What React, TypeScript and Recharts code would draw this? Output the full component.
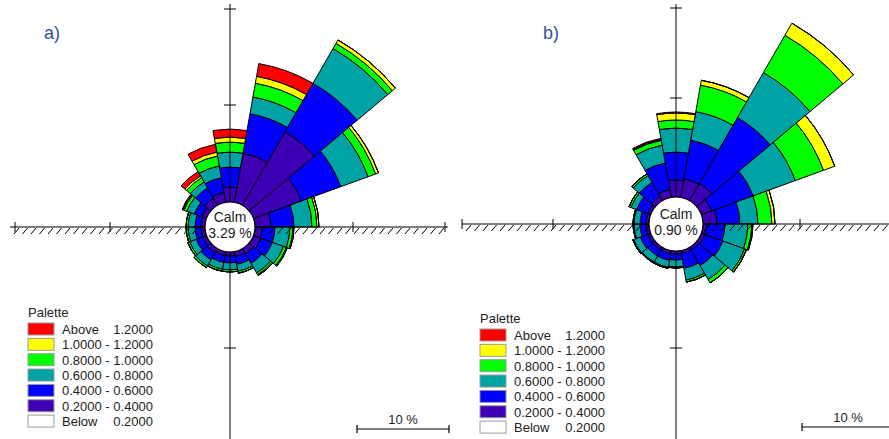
import {RadialBarChart, RadialBar, PolarAngleAxis, PolarRadiusAxis} from 'recharts';

// 18 sectors of 20 deg, clockwise from north
const directions = ['0', '20', '40', '60', '80', '100', '120', '140', '160', '180', '200', '220', '240', '260', '280', '300', '320', '340'];

// a) frequency (%) per direction for each speed class
const aS04 = [1.63, 5.43, 9.24, 5.54, 1.74, 0.76, 0.87, 0.65, 0.54, 0.43, 0.43, 0.54, 0.43, 0.43, 0.43, 0.54, 0.87, 1.09];
const aS06 = [2.17, 4.35, 6.09, 4.57, 2.5, 1.41, 1.3, 1.2, 0.87, 0.76, 0.76, 0.87, 0.76, 0.65, 0.65, 0.87, 1.3, 1.63];
const aS08 = [1.63, 1.85, 4.35, 3.15, 1.96, 1.63, 1.3, 1.2, 0.76, 0.76, 0.76, 0.76, 0.76, 0.76, 0.76, 0.87, 0.76, 1.3];
const aS10 = [1.09, 1.52, 0.65, 0.87, 0.54, 0.33, 0.33, 0.22, 0.22, 0.22, 0.22, 0.22, 0.22, 0.22, 0.22, 0.33, 0.54, 1.09];
const aS12 = [0.54, 0.76, 0.43, 0.33, 0.22, 0.11, 0.11, 0.11, 0, 0, 0, 0, 0, 0, 0, 0.11, 0.22, 0.43];
const aAbove = [0.87, 1.41, 0, 0, 0, 0, 0, 0, 0, 0, 0, 0, 0, 0, 0, 0.11, 0.54, 0.87];
const aCalm = '3.29 %';

// b)
const bS04 = [1.85, 2.07, 2.17, 1.2, 1.52, 0.43, 0.43, 0.33, 0.33, 0.33, 0.33, 0.33, 0.33, 0.33, 0.33, 0.33, 0.54, 0.87];
const bS06 = [3.04, 4.24, 8.26, 4.78, 2.5, 1.96, 2.07, 1.96, 1.63, 0.65, 0.76, 0.76, 0.87, 0.65, 0.65, 1.3, 1.74, 2.93];
const bS08 = [2.61, 3.15, 5.65, 4.89, 1.96, 2.5, 2.5, 1.74, 1.3, 0.76, 0.76, 0.76, 0.76, 0.65, 0.65, 0.65, 0.87, 1.96];
const bS10 = [0.87, 2.93, 4.67, 3.26, 1.52, 0.43, 0.22, 0.43, 0.22, 0.11, 0.11, 0.11, 0.11, 0.11, 0.11, 0.22, 0.22, 0.54];
const bS12 = [0.76, 0.54, 1.52, 1.3, 0.33, 0.11, 0, 0, 0, 0, 0, 0, 0, 0, 0, 0, 0, 0.11];
const bAbove = [0.11, 0, 0, 0, 0, 0, 0, 0, 0, 0, 0, 0, 0, 0, 0, 0, 0, 0.11];
const bCalm = '0.90 %';

// legend (top to bottom)
const legendColors = ['#ff0000', '#ffff00', '#00ff00', '#00a3a3', '#0000ff', '#3d00b5', '#ffffff'];
const legendLabels = ['Above', '1.0000 - 1.2000', '0.8000 - 1.0000', '0.6000 - 0.8000', '0.4000 - 0.6000', '0.2000 - 0.4000', 'Below'];
const legendValues = ['1.2000', '', '', '', '', '', '0.2000'];

// stacked from inside out
const bands = [
  {key: 's04', color: '#3d00b5'},
  {key: 's06', color: '#0000ff'},
  {key: 's08', color: '#00a3a3'},
  {key: 's10', color: '#00ff00'},
  {key: 's12', color: '#ffff00'},
  {key: 'above', color: '#ff0000'},
];

const build = (s04: number[], s06: number[], s08: number[], s10: number[], s12: number[], above: number[]) =>
  directions.map((dir, i) => ({dir, s04: s04[i], s06: s06[i], s08: s08[i], s10: s10[i], s12: s12[i], above: above[i]}));

const dataA = build(aS04, aS06, aS08, aS10, aS12, aAbove);
const dataB = build(bS04, bS06, bS08, bS10, bS12, bAbove);

const W = 889;
const H = 439;
const PX = 9.2; // px per 1 %
const FONT = '"Liberation Sans", Arial, sans-serif';

function Rose({data, left, width, cx, cy, inner}: any) {
  return (
    <div style={{position: 'absolute', left, top: 0}}>
      <RadialBarChart
        width={width}
        height={H}
        data={data}
        cx={cx}
        cy={cy}
        innerRadius={inner}
        outerRadius={inner + 24 * PX}
        startAngle={80}
        endAngle={-280}
        layout="centric"
        barCategoryGap={0}
        barGap={0}
        margin={{top: 0, right: 0, bottom: 0, left: 0}}
      >
        <PolarAngleAxis type="category" dataKey="dir" tick={false} axisLine={false} tickLine={false} />
        <PolarRadiusAxis type="number" domain={[0, 24]} tick={false} axisLine={false} tickLine={false} />
        {bands.map(b => (
          <RadialBar key={b.key} dataKey={b.key} stackId="w" fill={b.color} stroke="#000" strokeWidth={1} isAnimationActive={false} />
        ))}
      </RadialBarChart>
    </div>
  );
}

// cross axes with hatched ground line, calm circle on top
function Axes({cx, cy, x0, x1, hTicks, vTicks, r, calm}: any) {
  const hatches = [];
  for (let x = x0 + 4; x < x1 - 2; x += 8.5) hatches.push(x);
  return (
    <g>
      <line x1={x0} y1={cy} x2={x1} y2={cy} stroke="#000" strokeWidth={1} />
      {hatches.map(x => (
        <line key={x} x1={x} y1={cy + 7} x2={x + 5} y2={cy + 1} stroke="#000" strokeWidth={1} />
      ))}
      {hTicks.map((x: number) => (
        <line key={x} x1={x} y1={cy - 5} x2={x} y2={cy + 5} stroke="#000" strokeWidth={1} />
      ))}
      <line x1={cx} y1={4} x2={cx} y2={H} stroke="#000" strokeWidth={1} />
      {vTicks.map((y: number) => (
        <line key={y} x1={cx - 6} y1={y} x2={cx + 6} y2={y} stroke="#000" strokeWidth={1} />
      ))}
      <circle cx={cx} cy={cy} r={r} fill="#fff" stroke="#000" strokeWidth={1.2} />
      <text x={cx} y={cy - 5} textAnchor="middle" fontSize={14} fill="#222">Calm</text>
      <text x={cx} y={cy + 11} textAnchor="middle" fontSize={14} fill="#222">{calm}</text>
    </g>
  );
}

function Legend({x, y}: any) {
  return (
    <g fontSize={13} fill="#222">
      <text x={x} y={y}>Palette</text>
      {legendColors.map((c, i) => {
        const top = y + 6 + i * 15.35;
        return (
          <g key={i}>
            <rect x={x} y={top} width={26} height={12} fill={c} stroke="#9a9a9a" strokeWidth={1} />
            <text x={x + 34} y={top + 11}>{legendLabels[i]}</text>
            {legendValues[i] && <text x={x + 125} y={top + 11} textAnchor="end">{legendValues[i]}</text>}
          </g>
        );
      })}
    </g>
  );
}

function ScaleBar({x, y, len}: any) {
  return (
    <g>
      <line x1={x} y1={y} x2={x + len} y2={y} stroke="#000" strokeWidth={1.2} />
      <line x1={x} y1={y - 4} x2={x} y2={y + 4} stroke="#000" strokeWidth={1.2} />
      <line x1={x + len} y1={y - 4} x2={x + len} y2={y + 4} stroke="#000" strokeWidth={1.2} />
      <text x={x + len / 2} y={y - 5} textAnchor="middle" fontSize={13} fill="#222">10 %</text>
    </g>
  );
}

export default function App() {
  return (
    <div style={{position: 'absolute', left: 0, top: 0, width: W, height: H, background: '#fff', overflow: 'hidden', fontFamily: FONT}}>
      <Rose data={dataA} left={0} width={445} cx={230} cy={227} inner={25} />
      <Rose data={dataB} left={444} width={445} cx={232} cy={224} inner={27} />
      <svg width={W} height={H} style={{position: 'absolute', left: 0, top: 0, pointerEvents: 'none'}} fontFamily={FONT}>
        <Axes cx={230} cy={227} x0={10} x1={448} hTicks={[15, 110, 353, 445]} vTicks={[9, 105, 348]} r={25} calm={aCalm} />
        <Axes cx={676} cy={224} x0={462} x1={889} hTicks={[462, 553, 800]} vTicks={[8, 98, 348]} r={27} calm={bCalm} />
        <text x={44} y={39} fontSize={18} fill="#2e5496">a)</text>
        <text x={543} y={39} fontSize={18} fill="#2e5496">b)</text>
        <Legend x={28} y={317} />
        <Legend x={480} y={323} />
        <ScaleBar x={357} y={429} len={92} />
        <ScaleBar x={802} y={427} len={92} />
      </svg>
    </div>
  );
}
